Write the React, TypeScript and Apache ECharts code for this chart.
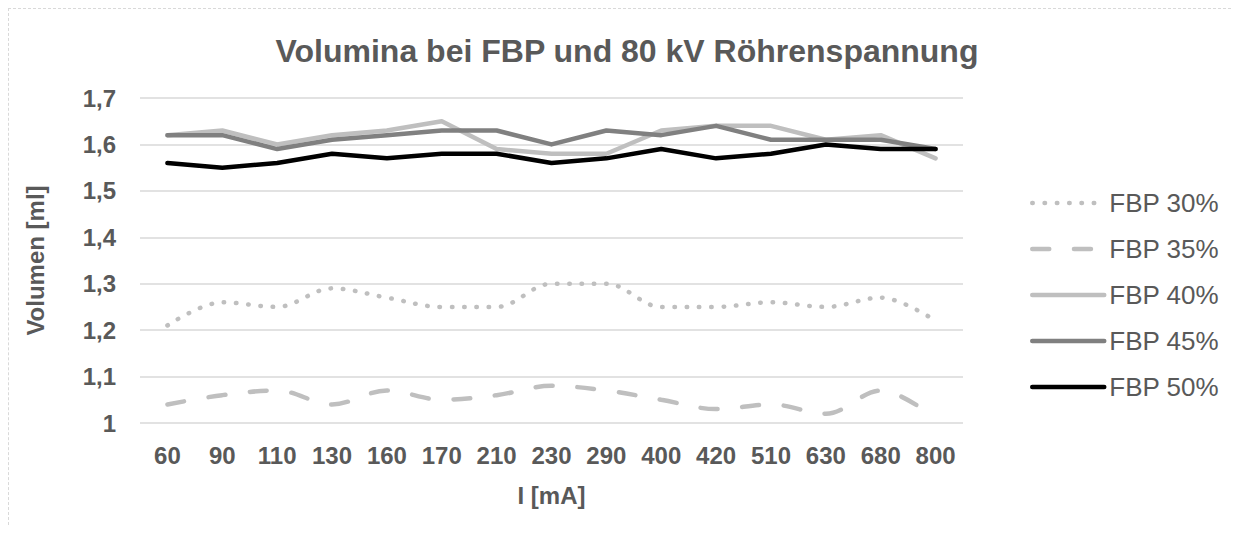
import React, { useEffect, useRef } from "react";
import * as echarts from "echarts";

const categories = ["60", "90", "110", "130", "160", "170", "210", "230", "290", "400", "420", "510", "630", "680", "800"];
const fbp30 = [1.21, 1.26, 1.25, 1.29, 1.27, 1.25, 1.25, 1.30, 1.30, 1.25, 1.25, 1.26, 1.25, 1.27, 1.22];
const fbp35 = [1.04, 1.06, 1.07, 1.04, 1.07, 1.05, 1.06, 1.08, 1.07, 1.05, 1.03, 1.04, 1.02, 1.07, 1.01];
const fbp40 = [1.62, 1.63, 1.60, 1.62, 1.63, 1.65, 1.59, 1.58, 1.58, 1.63, 1.64, 1.64, 1.61, 1.62, 1.57];
const fbp45 = [1.62, 1.62, 1.59, 1.61, 1.62, 1.63, 1.63, 1.60, 1.63, 1.62, 1.64, 1.61, 1.61, 1.61, 1.59];
const fbp50 = [1.56, 1.55, 1.56, 1.58, 1.57, 1.58, 1.58, 1.56, 1.57, 1.59, 1.57, 1.58, 1.60, 1.59, 1.59];

const FONT = "'Liberation Sans', Arial, sans-serif";
const TEXT = "#595959";

export default function App() {
  const ref = useRef<HTMLDivElement>(null);
  useEffect(() => {
    if (!ref.current) return;
    const chart = echarts.init(ref.current, undefined, { renderer: "svg" });
    const lw = 4.5;
    chart.setOption({
      animation: false,
      backgroundColor: "#ffffff",
      textStyle: { fontFamily: FONT },
      title: {
        text: "Volumina bei FBP und 80 kV Röhrenspannung",
        left: 613,
        top: 21,
        textAlign: "center",
        textStyle: { fontFamily: FONT, fontSize: 32, fontWeight: "bold", color: TEXT },
      },
      legend: {
        orient: "vertical",
        left: 1016,
        top: 176,
        itemWidth: 72,
        itemHeight: 5,
        itemGap: 20,
        itemStyle: { opacity: 0 },
        lineStyle: { width: lw },
        textStyle: { fontFamily: FONT, fontSize: 26, color: TEXT, lineHeight: 26 },
        data: ["FBP 30%", "FBP 35%", "FBP 40%", "FBP 45%", "FBP 50%"],
      },
      grid: { left: 131, top: 89, width: 823, height: 325, containLabel: false },
      xAxis: {
        type: "category",
        data: categories,
        boundaryGap: true,
        axisLine: { show: false },
        axisTick: { show: false },
        axisLabel: { fontFamily: FONT, fontSize: 24, fontWeight: "bold", color: TEXT, margin: 20 },
        name: "I [mA]",
        nameLocation: "middle",
        nameGap: 60,
        nameTextStyle: { fontFamily: FONT, fontSize: 24, fontWeight: "bold", color: TEXT },
      },
      yAxis: {
        type: "value",
        min: 1,
        max: 1.7,
        interval: 0.1,
        axisLine: { show: false },
        axisTick: { show: false },
        splitLine: { lineStyle: { color: "#d9d9d9", width: 1.5 } },
        axisLabel: {
          fontFamily: FONT,
          fontSize: 24,
          fontWeight: "bold",
          color: TEXT,
          margin: 24,
          formatter: (v: number) => {
            const r = Math.round(v * 10) / 10;
            return Number.isInteger(r) ? String(r) : r.toFixed(1).replace(".", ",");
          },
        },
        name: "Volumen [ml]",
        nameLocation: "middle",
        nameGap: 93,
        nameRotate: 90,
        nameTextStyle: { fontFamily: FONT, fontSize: 24, fontWeight: "bold", color: TEXT },
      },
      series: [
        {
          name: "FBP 30%",
          type: "line",
          data: fbp30,
          smooth: 0.35,
          symbol: "none",
          lineStyle: { color: "#bfbfbf", width: lw, type: [0.5, 11.8], cap: "round" },
          itemStyle: { color: "#bfbfbf" },
        },
        {
          name: "FBP 35%",
          type: "line",
          data: fbp35,
          smooth: 0.35,
          symbol: "none",
          lineStyle: { color: "#bfbfbf", width: lw, type: [17, 24.7], cap: "round" },
          itemStyle: { color: "#bfbfbf" },
        },
        {
          name: "FBP 40%",
          type: "line",
          data: fbp40,
          symbol: "none",
          lineStyle: { color: "#bfbfbf", width: lw, cap: "round", join: "round" },
          itemStyle: { color: "#bfbfbf" },
        },
        {
          name: "FBP 45%",
          type: "line",
          data: fbp45,
          symbol: "none",
          lineStyle: { color: "#808080", width: lw, cap: "round", join: "round" },
          itemStyle: { color: "#808080" },
        },
        {
          name: "FBP 50%",
          type: "line",
          data: fbp50,
          symbol: "none",
          lineStyle: { color: "#000000", width: lw, cap: "round", join: "round" },
          itemStyle: { color: "#000000" },
        },
      ],
    });
    return () => chart.dispose();
  }, []);
  return (
    <div
      style={{
        width: 1223,
        height: 517,
        boxSizing: "border-box",
        borderTop: "1px dashed #d9d9d9",
        borderLeft: "1px dashed #d9d9d9",
        overflow: "hidden",
      }}
    >
      <div ref={ref} style={{ width: 1222, height: 516 }} />
    </div>
  );
}
